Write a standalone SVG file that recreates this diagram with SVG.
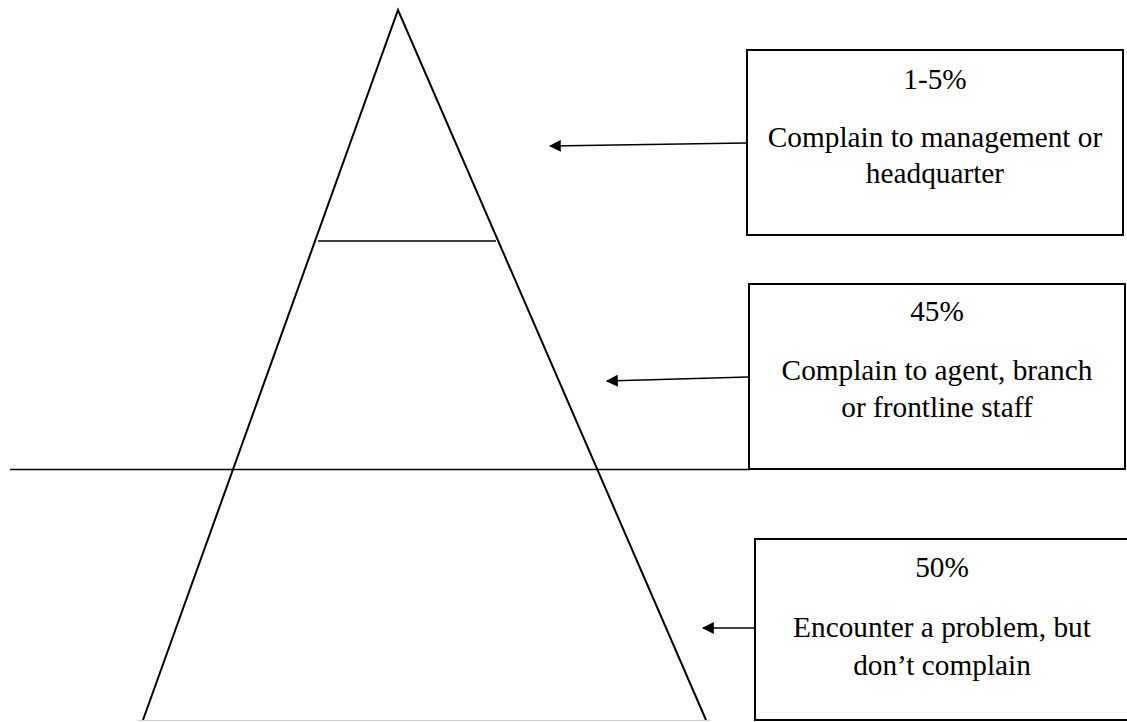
<svg xmlns="http://www.w3.org/2000/svg" width="1127" height="722" viewBox="0 0 1127 722">
<style>
.shape{fill:none;stroke:#000;stroke-width:2}
.thin{fill:none;stroke:#000;stroke-width:1.5}
.box{fill:#fff;stroke:#000;stroke-width:2}
.conn{fill:none;stroke:#000;stroke-width:1.3;marker-end:url(#ah)}
text{font-family:"Liberation Serif","Times New Roman",serif;font-size:29.3px;fill:#000;text-anchor:middle}
</style>
<defs>
<marker id="ah" viewBox="0 0 10 10" refX="9" refY="5" markerWidth="12" markerHeight="12" markerUnits="userSpaceOnUse" orient="auto">
<path d="M0,0 L10,5 L0,10 Z" fill="#000"/>
</marker>
</defs>
<rect width="1127" height="722" fill="#fff"/>
<g id="pyramid">
<path class="shape" d="M143,720 L398,10 L706,720"/>
<line x1="138" y1="720.5" x2="710" y2="720.5" stroke="#ccc" stroke-width="1"/>
<line class="thin" x1="318" y1="241" x2="496" y2="241"/>
<line class="thin" x1="10" y1="469.5" x2="750" y2="469.5"/>
</g>
<g id="node-top">
<rect class="box" x="747" y="50" width="376" height="185"/>
<text x="935" y="89">1-5%</text>
<text x="935" y="147">Complain to management or</text>
<text x="935" y="183">headquarter</text>
</g>
<g id="node-middle">
<rect class="box" x="749" y="284" width="376" height="185"/>
<text x="937" y="321">45%</text>
<text x="937" y="380">Complain to agent, branch</text>
<text x="937" y="417">or frontline staff</text>
</g>
<g id="node-bottom">
<rect class="box" x="755" y="539" width="380" height="181"/>
<text x="942" y="577">50%</text>
<text x="942" y="637">Encounter a problem, but</text>
<text x="942" y="675">don’t complain</text>
</g>
<g id="connectors">
<line class="conn" x1="746" y1="143" x2="550" y2="146"/>
<line class="conn" x1="748" y1="377" x2="607" y2="381"/>
<line class="conn" x1="754" y1="628" x2="703" y2="628"/>
</g>
</svg>
